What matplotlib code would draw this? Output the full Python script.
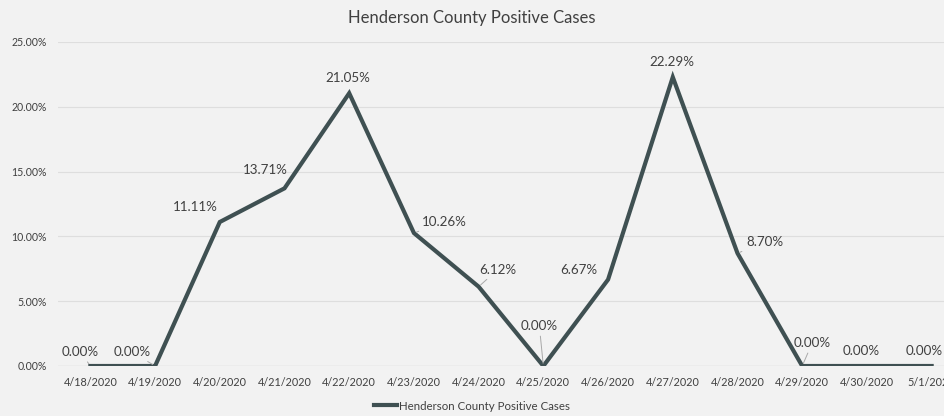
import matplotlib
matplotlib.use('Agg')
import matplotlib.pyplot as plt
from matplotlib.ticker import FuncFormatter

plt.rcParams['font.family'] = ['Lato', 'DejaVu Sans']

dates = ['4/18/2020', '4/19/2020', '4/20/2020', '4/21/2020', '4/22/2020',
         '4/23/2020', '4/24/2020', '4/25/2020', '4/26/2020', '4/27/2020',
         '4/28/2020', '4/29/2020', '4/30/2020', '5/1/2020']
positive = [0.00, 0.00, 11.11, 13.71, 21.05, 10.26, 6.12, 0.00, 6.67, 22.29,
            8.70, 0.00, 0.00, 0.00]

# label offsets in pixels (dx, dy) and whether a leader line is drawn
label_offsets = [(-10, 14), (-23, 14), (-24, 15), (-19, 18), (-1, 15), (30, 11),
                 (19, 17), (-4, 40), (-29, 10), (-1, 15), (27, 11), (10, 23),
                 (-6, 15), (-7, 15)]
leaders = [True, True, False, False, False, True, True, True, False, False,
           True, True, False, False]

bg = '#f2f2f2'
line_color = '#3f5052'
text_color = '#404040'

fig = plt.figure(figsize=(9.44, 4.16), dpi=100, facecolor=bg)
ax = fig.add_axes([58 / 944, 50 / 416, 906 / 944, 324 / 416])
ax.set_facecolor(bg)

x = list(range(len(dates)))
ax.plot(x, positive, color=line_color, lw=3.0, solid_joinstyle='miter',
        label='Henderson County Positive Cases', zorder=3)

ax.set_xlim(-0.5, len(dates) - 0.5)
ax.set_ylim(0, 25)
ax.set_yticks([0, 5, 10, 15, 20, 25])
ax.yaxis.set_major_formatter(FuncFormatter(lambda v, p: '%.2f%%' % v))
ax.set_xticks(x)
ax.set_xticklabels(dates)
ax.tick_params(axis='both', length=0, labelsize=7.8, labelcolor=text_color)
ax.tick_params(axis='x', pad=8)
ax.tick_params(axis='y', pad=8)
for lbl in ax.get_yticklabels():
    lbl.set_fontsize(7.6)

ax.grid(axis='y', color='#dedede', lw=0.8)
ax.set_axisbelow(True)
for s in ax.spines.values():
    s.set_visible(False)
ax.axhline(0, color='#d4d4d4', lw=0.9, zorder=2)

for i, v in enumerate(positive):
    dx, dy = label_offsets[i]
    props = None
    if leaders[i]:
        props = dict(arrowstyle='-', color='#a8a8a8', lw=0.7, shrinkA=1, shrinkB=2)
    ax.annotate('%.2f%%' % v, (i, v), xytext=(dx, dy), textcoords='offset pixels',
                ha='center', va='center', fontsize=9.6, color=text_color,
                arrowprops=props, zorder=4)

fig.text(0.5, 1 - 18 / 416, 'Henderson County Positive Cases', ha='center',
         va='center', fontsize=12, color=text_color)

fig.legend(loc='center', bbox_to_anchor=(0.5, 1 - 406 / 416), frameon=False,
           fontsize=8.3, handlelength=2.0, handletextpad=0.1,
           labelcolor=text_color)

fig.savefig('out.png', dpi=100, facecolor=bg)
